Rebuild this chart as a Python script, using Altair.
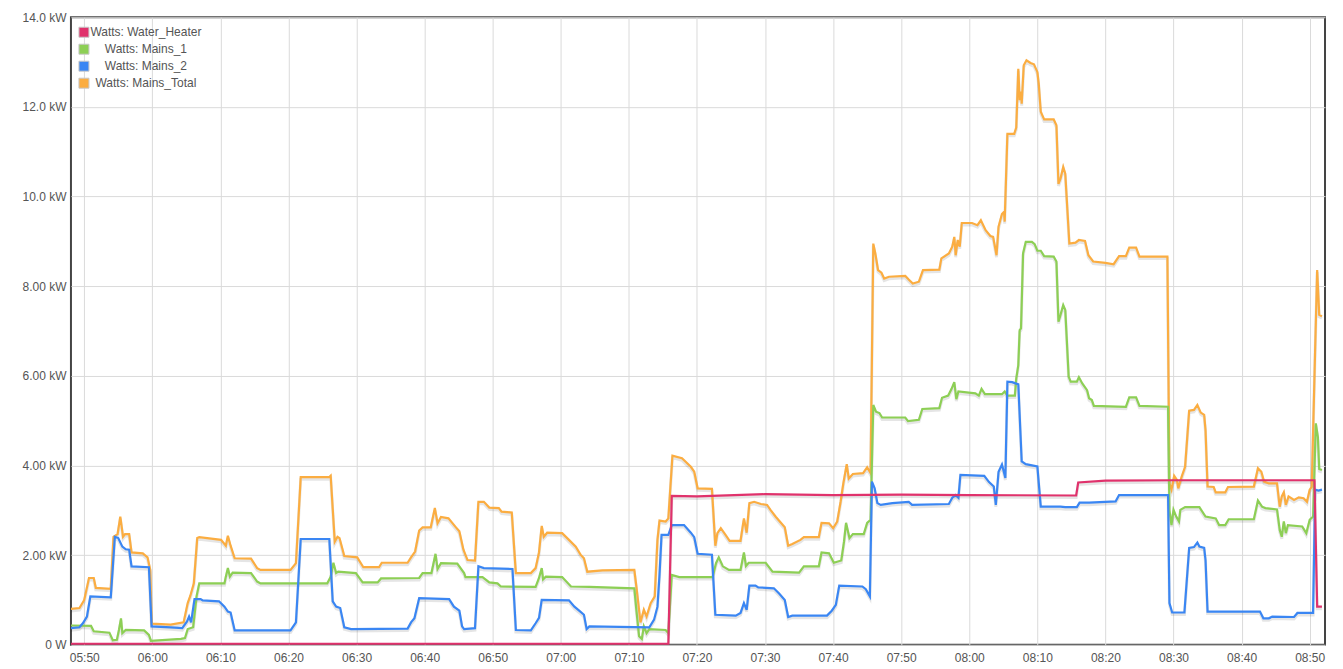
import altair as alt
import pandas as pd

SERIES = ["Watts: Water_Heater", "Watts: Mains_1", "Watts: Mains_2", "Watts: Mains_Total"]
COLORS = ["#e0326c", "#8dcf55", "#3a86f3", "#fbad41"]

# x tick labels, every 10 minutes starting 05:50 (x = minutes after 05:50)
TIME_LABELS = ["05:50", "06:00", "06:10", "06:20", "06:30", "06:40", "06:50", "07:00", "07:10", "07:20",
               "07:30", "07:40", "07:50", "08:00", "08:10", "08:20", "08:30", "08:40", "08:50"]
Y_TICKS = [0, 2, 4, 6, 8, 10, 12, 14]

# (minutes after 05:50, kW)
WATER_HEATER = [(-1.95, 0.02), (85.8, 0.02), (86.3, 3.32), (90.0, 3.31), (100.0, 3.36), (110.0, 3.34),
                (120.0, 3.35), (130.0, 3.34), (145.7, 3.33), (146.0, 3.62), (150.0, 3.66), (160.0, 3.67),
                (170.0, 3.67), (180.7, 3.67), (181.1, 0.85), (181.8, 0.85)]

MAINS_1 = [(-1.95, 0.43), (1.0, 0.42), (1.4, 0.30), (3.7, 0.27), (4.2, 0.10), (4.8, 0.11), (5.1, 0.33),
           (5.4, 0.59), (5.6, 0.26), (6.1, 0.33), (8.8, 0.32), (9.5, 0.22), (9.8, 0.09), (14.2, 0.13),
           (14.8, 0.15), (15.2, 0.35), (16.0, 0.39), (16.5, 1.08), (16.9, 1.37), (20.6, 1.37), (20.8, 1.52),
           (21.1, 1.71), (21.4, 1.52), (21.8, 1.61), (24.5, 1.60), (25.4, 1.41), (25.9, 1.37), (35.7, 1.37),
           (36.2, 1.52), (36.6, 1.83), (37.0, 1.60), (37.3, 1.63), (39.9, 1.60), (40.9, 1.39), (43.1, 1.39),
           (43.6, 1.48), (49.2, 1.49), (49.7, 1.60), (51.0, 1.60), (51.6, 2.03), (51.9, 1.69), (52.4, 1.82),
           (54.8, 1.81), (55.8, 1.60), (56.0, 1.51), (58.5, 1.51), (59.5, 1.39), (60.7, 1.37), (61.2, 1.30),
           (66.3, 1.29), (66.8, 1.49), (67.2, 1.71), (67.4, 1.46), (67.8, 1.52), (70.2, 1.51), (71.5, 1.30),
           (74.2, 1.29), (80.8, 1.26), (81.1, 0.78), (81.5, 0.19), (81.9, 0.13), (82.2, 0.41), (82.6, 0.26),
           (83.0, 0.35), (85.4, 0.33), (85.8, 0.26), (86.3, 1.56), (87.4, 1.51), (92.3, 1.51), (92.8, 1.82),
           (93.2, 1.95), (93.8, 1.75), (94.7, 1.67), (96.4, 1.67), (96.9, 2.06), (97.2, 1.76), (97.6, 1.83),
           (100.1, 1.83), (101.1, 1.63), (105.0, 1.61), (105.7, 1.75), (107.9, 1.75), (108.3, 2.06),
           (109.4, 2.04), (110.1, 1.83), (111.2, 1.88), (111.6, 2.30), (111.9, 2.72), (112.4, 2.38),
           (112.9, 2.47), (114.5, 2.47), (115.0, 2.72), (115.5, 2.79), (115.9, 5.35), (116.3, 5.20),
           (116.8, 5.17), (117.2, 5.07), (120.6, 5.07), (121.0, 4.99), (122.6, 5.02), (123.1, 5.26),
           (125.6, 5.28), (126.0, 5.51), (126.9, 5.56), (127.4, 5.71), (127.8, 5.86), (128.1, 5.48),
           (128.4, 5.65), (130.9, 5.61), (131.4, 5.56), (131.8, 5.71), (132.3, 5.59), (134.8, 5.59),
           (135.2, 5.65), (135.6, 5.56), (136.7, 5.56), (136.9, 5.94), (137.2, 6.24), (137.4, 7.02),
           (137.6, 7.06), (137.9, 8.73), (138.3, 8.99), (139.2, 8.99), (139.6, 8.94), (140.0, 8.79),
           (140.5, 8.79), (141.0, 8.67), (142.4, 8.66), (142.8, 8.55), (143.1, 7.21), (143.4, 7.36),
           (143.8, 7.58), (144.1, 7.47), (144.6, 5.98), (144.9, 5.87), (145.8, 5.87), (146.1, 5.97),
           (146.6, 5.83), (147.3, 5.68), (147.6, 5.50), (148.0, 5.46), (148.3, 5.33), (153.0, 5.31),
           (153.5, 5.52), (154.5, 5.52), (155.0, 5.33), (159.2, 5.31), (159.4, 3.00), (159.7, 2.67),
           (160.0, 3.01), (160.4, 2.86), (160.8, 2.75), (161.0, 3.01), (161.7, 3.07), (163.8, 3.07),
           (164.7, 2.86), (166.2, 2.82), (166.7, 2.67), (167.6, 2.67), (168.1, 2.80), (171.8, 2.80),
           (172.4, 3.22), (173.0, 3.08), (173.5, 3.05), (175.2, 3.02), (175.6, 2.56), (175.9, 2.41),
           (176.2, 2.75), (176.5, 2.49), (176.8, 2.67), (178.9, 2.64), (179.5, 2.49), (180.0, 2.79),
           (180.5, 2.86), (180.9, 4.94), (181.2, 4.64), (181.4, 3.92), (181.8, 3.90)]

MAINS_2 = [(-1.95, 0.37), (-0.7, 0.39), (-0.2, 0.48), (0.4, 0.63), (0.9, 1.08), (3.9, 1.06), (4.5, 2.41),
           (5.0, 2.38), (5.6, 2.19), (6.1, 2.13), (6.6, 2.12), (6.95, 1.75), (9.5, 1.73), (9.9, 0.41),
           (12.7, 0.39), (14.4, 0.37), (15.1, 0.52), (15.4, 0.63), (15.7, 0.50), (16.2, 1.02), (17.1, 1.02),
           (17.4, 0.99), (19.8, 0.97), (20.6, 0.85), (21.1, 0.74), (21.5, 0.72), (22.1, 0.32), (30.3, 0.32),
           (31.1, 0.50), (31.8, 2.36), (36.0, 2.36), (36.5, 0.97), (37.0, 0.85), (37.6, 0.82), (38.2, 0.39),
           (39.2, 0.35), (47.5, 0.36), (48.0, 0.50), (48.5, 0.59), (49.2, 1.04), (53.6, 1.02), (54.3, 0.85),
           (55.1, 0.76), (55.5, 0.41), (55.8, 0.35), (57.4, 0.37), (57.9, 1.75), (58.7, 1.71), (62.9, 1.69),
           (63.4, 0.33), (65.6, 0.32), (66.3, 0.48), (66.8, 0.60), (67.2, 1.00), (71.2, 0.99), (72.0, 0.85),
           (72.7, 0.76), (73.4, 0.67), (73.8, 0.35), (74.2, 0.41), (83.0, 0.39), (83.7, 0.56), (84.2, 0.85),
           (84.5, 1.56), (84.8, 2.45), (85.8, 2.45), (86.3, 2.67), (88.1, 2.67), (89.1, 2.50), (89.6, 2.40),
           (90.1, 2.03), (92.2, 2.01), (92.7, 0.67), (95.7, 0.65), (96.4, 0.71), (96.9, 0.93), (97.3, 0.78),
           (97.7, 1.32), (98.6, 1.32), (99.0, 1.28), (101.3, 1.26), (102.1, 1.14), (102.9, 1.00),
           (103.4, 0.62), (104.0, 0.65), (109.1, 0.65), (109.8, 0.76), (110.4, 0.89), (110.9, 1.32),
           (114.3, 1.30), (114.8, 1.24), (115.4, 1.08), (115.7, 3.64), (116.1, 3.49), (116.5, 3.16),
           (117.0, 3.12), (118.7, 3.16), (121.1, 3.19), (121.6, 3.12), (127.0, 3.14), (127.5, 3.28),
           (128.0, 3.34), (128.4, 3.28), (128.7, 3.79), (132.2, 3.77), (132.9, 3.63), (133.6, 3.53),
           (133.9, 3.12), (134.3, 3.86), (134.8, 4.02), (135.3, 3.72), (135.6, 5.87), (136.3, 5.86),
           (137.2, 5.81), (137.7, 4.09), (138.3, 4.03), (140.0, 3.98), (140.5, 3.08), (143.4, 3.08),
           (144.1, 3.07), (145.8, 3.07), (146.2, 3.17), (147.6, 3.17), (151.5, 3.20), (152.0, 3.34),
           (159.2, 3.34), (159.4, 0.93), (159.8, 0.72), (161.6, 0.72), (162.3, 2.16), (163.0, 2.18),
           (163.5, 2.28), (163.8, 2.19), (164.5, 2.16), (164.7, 1.89), (165.0, 0.74), (172.7, 0.74),
           (173.2, 0.59), (174.0, 0.59), (174.5, 0.63), (177.7, 0.62), (178.2, 0.71), (180.5, 0.71),
           (180.8, 3.46), (181.3, 3.44), (181.8, 3.46)]

MAINS_TOTAL = [(-1.95, 0.80), (-0.7, 0.82), (0.0, 1.00), (0.7, 1.49), (1.4, 1.49), (1.7, 1.27), (3.9, 1.25),
               (4.3, 2.41), (4.9, 2.47), (5.3, 2.86), (5.7, 2.41), (6.0, 2.47), (6.6, 2.47), (6.95, 2.06),
               (8.6, 2.04), (9.3, 1.95), (9.7, 1.67), (9.9, 0.47), (12.7, 0.45), (14.6, 0.50), (15.2, 0.93),
               (15.6, 1.10), (16.1, 1.37), (16.6, 2.38), (16.9, 2.40), (20.1, 2.34), (20.8, 2.21), (21.1, 2.43),
               (21.5, 2.21), (22.1, 1.93), (24.5, 1.92), (25.4, 1.71), (25.9, 1.67), (30.3, 1.67), (31.1, 1.82),
               (31.8, 3.74), (36.0, 3.74), (36.2, 3.77), (36.8, 2.30), (37.2, 2.41), (37.5, 2.38), (38.2, 1.98),
               (40.1, 1.95), (41.0, 1.73), (43.3, 1.73), (43.7, 1.83), (47.5, 1.83), (48.0, 1.95), (48.6, 2.08),
               (49.2, 2.55), (49.7, 2.62), (50.9, 2.62), (51.5, 3.05), (51.9, 2.71), (52.4, 2.85), (53.5, 2.82),
               (54.6, 2.62), (55.1, 2.53), (55.7, 2.12), (56.3, 1.89), (57.4, 1.88), (57.9, 3.19), (58.7, 3.19),
               (59.5, 3.06), (60.9, 3.05), (61.3, 2.97), (62.8, 2.95), (63.4, 1.60), (65.6, 1.60), (66.3, 1.71),
               (66.8, 2.06), (67.2, 2.65), (67.5, 2.41), (68.0, 2.50), (70.2, 2.49), (71.2, 2.34), (72.2, 2.19),
               (72.9, 2.01), (73.4, 1.93), (73.9, 1.63), (76.1, 1.66), (80.8, 1.67), (81.1, 1.30), (81.7, 0.50),
               (82.2, 0.78), (82.6, 0.63), (83.2, 0.93), (83.8, 1.08), (84.2, 2.34), (84.5, 2.77), (85.4, 2.75),
               (85.8, 2.82), (86.4, 4.22), (87.8, 4.16), (89.1, 3.97), (89.6, 3.86), (90.1, 3.49), (92.2, 3.48),
               (92.7, 2.21), (93.0, 2.49), (93.5, 2.60), (94.2, 2.45), (94.8, 2.32), (96.4, 2.32), (96.9, 2.82),
               (97.3, 2.50), (97.7, 3.16), (98.4, 3.19), (99.4, 3.14), (100.3, 3.12), (100.8, 3.01),
               (101.6, 2.85), (102.9, 2.62), (103.4, 2.21), (104.0, 2.25), (105.2, 2.34), (105.7, 2.40),
               (107.9, 2.40), (108.3, 2.72), (109.4, 2.71), (110.0, 2.60), (110.6, 2.75), (111.1, 3.19),
               (111.5, 3.60), (112.0, 4.03), (112.3, 3.71), (112.9, 3.81), (114.4, 3.83), (115.0, 3.96),
               (115.5, 3.83), (115.9, 8.95), (116.2, 8.73), (116.6, 8.36), (117.1, 8.30), (117.5, 8.17),
               (118.2, 8.21), (120.6, 8.23), (121.1, 8.15), (121.7, 8.06), (122.6, 8.10), (123.2, 8.36),
               (125.6, 8.37), (125.9, 8.62), (127.0, 8.73), (127.5, 8.88), (127.8, 9.10), (128.0, 8.69),
               (128.3, 9.03), (128.6, 8.88), (128.9, 9.41), (130.4, 9.41), (131.2, 9.36), (131.7, 9.47),
               (132.4, 9.25), (133.1, 9.12), (133.5, 9.10), (134.0, 8.69), (134.3, 9.33), (134.8, 9.61),
               (135.1, 9.66), (135.2, 9.44), (135.6, 11.40), (136.6, 11.40), (136.9, 11.54), (137.2, 12.85),
               (137.4, 12.15), (137.6, 12.34), (137.7, 12.07), (138.0, 12.93), (138.4, 13.04), (139.0, 12.98),
               (139.5, 12.95), (140.0, 12.78), (140.2, 12.52), (140.5, 11.89), (141.0, 11.72), (142.4, 11.72),
               (142.8, 11.59), (143.1, 10.28), (143.4, 10.40), (143.8, 10.66), (144.1, 10.51), (144.7, 8.95),
               (145.6, 8.97), (146.1, 9.03), (147.0, 9.01), (147.5, 8.69), (148.2, 8.55), (150.0, 8.52),
               (151.2, 8.49), (152.0, 8.67), (153.0, 8.67), (153.5, 8.86), (154.5, 8.86), (155.0, 8.66),
               (159.1, 8.66), (159.4, 3.60), (159.7, 3.46), (160.1, 3.77), (160.5, 3.68), (160.7, 3.49),
               (161.2, 3.75), (161.7, 3.97), (162.3, 5.22), (163.0, 5.24), (163.5, 5.35), (164.0, 5.18),
               (164.5, 5.13), (164.7, 4.79), (165.0, 3.53), (165.9, 3.52), (166.2, 3.40), (167.6, 3.40),
               (168.0, 3.52), (171.8, 3.53), (172.4, 3.94), (172.9, 3.86), (173.3, 3.64), (174.0, 3.60),
               (175.2, 3.60), (175.6, 3.08), (175.9, 3.31), (176.2, 3.40), (176.5, 3.12), (176.9, 3.31),
               (177.7, 3.23), (178.4, 3.29), (179.1, 3.27), (179.6, 3.19), (180.0, 3.46), (180.3, 3.52),
               (180.8, 6.58), (181.1, 8.36), (181.4, 7.36), (181.8, 7.33)]

rows = []
for name, pts in [(SERIES[3], MAINS_TOTAL), (SERIES[1], MAINS_1), (SERIES[2], MAINS_2), (SERIES[0], WATER_HEATER)]:
    for i, (m, v) in enumerate(pts):
        rows.append({"series": name, "minute": m, "kw": v, "idx": i})
df = pd.DataFrame(rows)

legend_df = pd.DataFrame({"series": SERIES, "minute": [0.0] * 4, "kw": [-5.0] * 4})

FONT = "Liberation Sans"
GRID = "#dadada"
LABEL = "#555555"

label_array = "[" + ",".join("'%s'" % s for s in TIME_LABELS) + "]"

x_enc = alt.X(
    "minute:Q",
    scale=alt.Scale(domain=[-1.95, 182.25], nice=False, zero=False),
    axis=alt.Axis(values=[10 * i for i in range(len(TIME_LABELS))],
                  labelExpr=label_array + "[round(datum.value / 10)]",
                  grid=True, gridColor=GRID, ticks=False, domain=False, labelPadding=8, labelFont=FONT,
                  labelFontSize=12, labelColor=LABEL, labelFlush=False, labelOverlap=False, title=None),
)
y_enc = alt.Y(
    "kw:Q",
    scale=alt.Scale(domain=[0, 14], nice=False, zero=False),
    axis=alt.Axis(values=Y_TICKS, grid=True, gridColor=GRID, ticks=False, domain=False, labelPadding=5,
                  labelFont=FONT, labelFontSize=12, labelColor=LABEL, title=None,
                  labelExpr="datum.value == 0 ? '0 W' : ((datum.value < 10 ? format(datum.value, '.2f') : format(datum.value, '.1f')) + ' kW')"),
)

shadow = alt.Chart(df).mark_line(strokeWidth=3, color="#000000", opacity=0.10, yOffset=2, clip=True).encode(
    x=x_enc, y=y_enc, detail="series:N", order="idx:Q")

# one line layer per series, drawn in the reference's stacking order
draw_order = [3, 1, 2, 0]
line_layers = [
    alt.Chart(df).transform_filter(alt.datum.series == SERIES[k])
    .mark_line(strokeWidth=2.2, clip=True, color=COLORS[k])
    .encode(x=x_enc, y=y_enc, order="idx:Q")
    for k in draw_order
]

legend_layer = alt.Chart(legend_df).mark_square(clip=True, filled=True, opacity=1, stroke="#c8c8c8",
                                                strokeWidth=1).encode(
    x=x_enc, y=y_enc,
    fill=alt.Fill("series:N", scale=alt.Scale(domain=SERIES, range=COLORS),
                  legend=alt.Legend(title=None, orient="none", legendX=7, legendY=9, symbolType="square",
                                    symbolSize=100, symbolStrokeColor="#c8c8c8", symbolStrokeWidth=1,
                                    symbolOpacity=1, labelFont=FONT, labelFontSize=12, labelColor=LABEL,
                                    labelAlign="center", labelOffset=56, rowPadding=3, padding=0, offset=0,
                                    labelLimit=300)),
)

chart = alt.layer(shadow, *line_layers, legend_layer).properties(
    width=1255, height=628,
    autosize=alt.AutoSizeParams(type="none"),
    padding={"left": 63, "top": 9, "right": 10, "bottom": 22},
    background="white",
).configure_view(stroke="#444444", strokeWidth=2)

chart.save("out.html", embed_options={"renderer": "svg", "actions": False})
